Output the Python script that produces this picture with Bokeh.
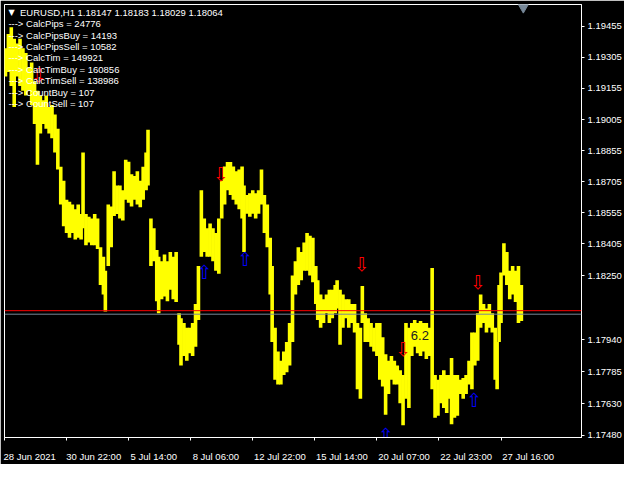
from bokeh.plotting import figure
from bokeh.models import (Range1d, FixedTicker, NumeralTickFormatter, Span, Label, LinearAxis,
                          ColumnDataSource)
from bokeh.core.properties import value
from bokeh.embed import file_html
from bokeh.resources import INLINE

# ---------------- data (EURUSD H1, bar index = hours on chart) ----------------
bars = [1, 4, 7, 10, 13, 16, 19, 22, 25, 28, 31, 34, 37, 40, 43, 46, 49, 52, 55, 58,
        61, 64, 67, 70, 73, 76, 79, 81, 84, 87, 90, 93, 96, 99, 102, 104, 107,
        110, 113, 116, 119, 122, 125, 128, 131, 134, 137, 140, 143, 146, 148, 151, 154,
        157, 159, 162, 165, 168, 171, 174, 177, 180, 182, 185, 188, 191, 194, 197, 200,
        203, 206, 209,
        212, 215, 218, 221, 224, 227, 230, 233, 236, 239, 242, 245, 247, 250, 253, 256,
        259, 262, 265, 268, 271, 274, 276, 279, 282, 285, 288, 291, 294, 297, 300, 303,
        306, 309, 312, 315, 318,
        321, 323, 326, 329, 332, 335, 338, 341, 343, 346, 349, 352, 355, 358, 361, 364,
        367, 369, 372, 375, 378, 381, 384, 387, 390, 393, 396, 399, 402, 405, 408, 411,
        414, 417,
        420, 423, 426, 429, 432, 435, 438, 441, 444, 447, 450, 453, 456, 459, 461, 464,
        467, 470, 473, 476, 479, 482, 485, 488, 491, 494, 497, 500, 503, 506, 508, 510,
        512, 515, 518, 521, 524, 527, 530, 533]

highs = [1.19350, 1.19419, 1.19451, 1.19396, 1.19373, 1.19396, 1.19350, 1.19327, 1.19258, 1.19281,
         1.19190, 1.19144, 1.19121, 1.19098, 1.19121, 1.19066, 1.19075, 1.19029, 1.18961, 1.18777,
         1.18709, 1.18617, 1.18608, 1.18594, 1.18571, 1.18594, 1.18548, 1.18846, 1.18548, 1.18535,
         1.18526, 1.18548, 1.18526, 1.18388, 1.18342, 1.18274, 1.18594,
         1.18585, 1.18755, 1.18686, 1.18686, 1.18663, 1.18810, 1.18801, 1.18741, 1.18732, 1.18755,
         1.18709, 1.18777, 1.18846, 1.18956, 1.18526, 1.18480, 1.18374, 1.18342, 1.18320, 1.18352,
         1.18320, 1.18365, 1.18342, 1.18365, 1.18068, 1.18045, 1.18022, 1.17999, 1.17999, 1.18022,
         1.18113, 1.18297, 1.18663, 1.18526, 1.18480,
         1.18503, 1.18480, 1.18457, 1.18526, 1.18709, 1.18778, 1.18800, 1.18800, 1.18778, 1.18755,
         1.18764, 1.18778, 1.18686, 1.18640, 1.18649, 1.18663, 1.18649, 1.18663, 1.18764, 1.18640,
         1.18594, 1.18434, 1.18297, 1.17999, 1.17884, 1.17839, 1.17884, 1.17930, 1.18022, 1.18251,
         1.18320, 1.18388, 1.18365, 1.18411, 1.18457, 1.18443, 1.18434,
         1.18297, 1.18228, 1.18159, 1.18136, 1.18159, 1.18182, 1.18182, 1.18205, 1.18228, 1.18182,
         1.18159, 1.18136, 1.18136, 1.18113, 1.18113, 1.18022, 1.17999, 1.18200, 1.18068, 1.18045,
         1.18022, 1.17999, 1.18022, 1.18022, 1.17953, 1.17871, 1.17839, 1.17862, 1.17839, 1.17816,
         1.17793, 1.17770, 1.18022, 1.17999,
         1.18022, 1.18036, 1.18022, 1.18031, 1.18022, 1.18022, 1.17999, 1.18287, 1.17770, 1.17747,
         1.17770, 1.17793, 1.17770, 1.17770, 1.17852, 1.17770, 1.17770, 1.17747, 1.17756, 1.17770,
         1.17839, 1.17976, 1.17976, 1.18068, 1.18159, 1.18113, 1.18091, 1.18113, 1.18068, 1.17999,
         1.17930, 1.18205, 1.18265, 1.18407, 1.18365, 1.18274, 1.18297, 1.18274, 1.18297, 1.18205]

lows = [1.19213, 1.19235, 1.19167, 1.19066, 1.19213, 1.19167, 1.19144, 1.19121, 1.19144, 1.19075,
        1.18983, 1.18787, 1.18938, 1.18983, 1.18961, 1.18938, 1.18915, 1.18846, 1.18764, 1.18594,
        1.18489, 1.18457, 1.18434, 1.18457, 1.18425, 1.18434, 1.18425, 1.18480, 1.18397, 1.18411,
        1.18397, 1.18397, 1.18379, 1.18205, 1.18159, 1.18077, 1.18297,
        1.18388, 1.18539, 1.18548, 1.18526, 1.18517, 1.18617, 1.18603, 1.18585, 1.18617, 1.18594,
        1.18581, 1.18617, 1.18663, 1.18686, 1.18297, 1.18320, 1.18127, 1.18068, 1.18136, 1.18150,
        1.18127, 1.18182, 1.18136, 1.18123, 1.17916, 1.17816, 1.17862, 1.17839, 1.17875, 1.17862,
        1.17907, 1.18036, 1.18342, 1.18365, 1.18342,
        1.18342, 1.18320, 1.18274, 1.18260, 1.18526, 1.18594, 1.18663, 1.18640, 1.18617, 1.18594,
        1.18571, 1.18526, 1.18365, 1.18549, 1.18535, 1.18549, 1.18526, 1.18549, 1.18594, 1.18457,
        1.18388, 1.18159, 1.17930, 1.17747, 1.17724, 1.17724, 1.17770, 1.17784, 1.17816, 1.17930,
        1.18159, 1.18205, 1.18228, 1.18274, 1.18274, 1.18251, 1.18219,
        1.18113, 1.18036, 1.17999, 1.18022, 1.18068, 1.18022, 1.18045, 1.18068, 1.18091, 1.17916,
        1.17999, 1.18045, 1.17999, 1.18022, 1.17976, 1.17701, 1.17655, 1.18022, 1.17930, 1.17930,
        1.17907, 1.17884, 1.17862, 1.17747, 1.17715, 1.17578, 1.17678, 1.17747, 1.17724, 1.17724,
        1.17633, 1.17527, 1.17655, 1.17610,
        1.17862, 1.17907, 1.17875, 1.17862, 1.17884, 1.17848, 1.17862, 1.17701, 1.17564, 1.17573,
        1.17633, 1.17610, 1.17587, 1.17655, 1.17532, 1.17564, 1.17573, 1.17678, 1.17655, 1.17678,
        1.17724, 1.17701, 1.17816, 1.17839, 1.17999, 1.18022, 1.17976, 1.17999, 1.17976, 1.17747,
        1.17701, 1.17930, 1.18022, 1.18251, 1.18205, 1.18136, 1.18159, 1.18123, 1.18022, 1.18031]

assert len(bars) == len(highs) == len(lows)

sell_bars = [35, 223, 368, 411, 488]
sell_prices = [1.19222, 1.18741, 1.18306, 1.17898, 1.18219]
buy_bars = [206, 248, 484, 393]
buy_prices = [1.18269, 1.18329, 1.17651, 1.17481]

price_ticks = [1.19455, 1.19305, 1.19155, 1.19005, 1.18855, 1.18705, 1.18555,
               1.18405, 1.18250, 1.17940, 1.17785, 1.17630, 1.17480]
time_ticks = [0, 64, 128, 192, 256, 320, 384, 448, 512]
time_labels = ["28 Jun 2021", "30 Jun 22:00", "5 Jul 14:00", "8 Jul 06:00", "12 Jul 22:00",
               "15 Jul 14:00", "20 Jul 07:00", "22 Jul 23:00", "27 Jul 16:00"]

symbol = "EURUSD,H1"
ohlc = [1.18147, 1.18183, 1.18029, 1.18064]
bid_price = 1.18064
line_price = 1.18081
info_names = ["CalcPips", "CalcPipsBuy", "CalcPipsSell", "CalcTim", "CalcTimBuy",
              "CalcTimSell", "CountBuy", "CountSell"]
info_values = [24776, 14193, 10582, 149921, 160856, 138986, 107, 107]
level_text = "6.2"
shift_bar = 535

# ---------------- layout helpers ----------------
X_END = 595
Y_TOP = 1.19561
Y_BOT = 1.17468
FONT = "Liberation Sans"
FSIZE = "9.5px"


def xd(px):
    return px - 4


def yd(py):
    return Y_TOP - (py - 4) * (Y_TOP - Y_BOT) / 457.0


p = figure(width=624, height=464, x_range=Range1d(0, X_END), y_range=Range1d(Y_BOT, Y_TOP),
           output_backend="svg", toolbar_location=None, y_axis_location="right",
           min_border_left=4, min_border_top=4, min_border_right=40, min_border_bottom=4,
           background_fill_color="black", border_fill_color="black",
           outline_line_color="white", outline_line_width=1)
p.grid.visible = False

# price series
src = ColumnDataSource(dict(bar=bars, hi=highs, lo=lows))
p.segment(x0="bar", y0="lo", x1="bar", y1="hi", source=src, line_color="#FFFF00", line_width=3.6)

# horizontal price lines
p.add_layout(Span(location=line_price, dimension="width", line_color="#FF0000", line_width=1))
p.add_layout(Span(location=bid_price, dimension="width", line_color="#778899", line_width=1))

# price labels on the right scale
p.add_layout(Label(x=X_END + 3, y=line_price, text=f"{line_price:.5f}", text_color="black",
                   text_font=FONT, text_font_size="10px", text_baseline="middle",
                   background_fill_color="#FF0000"))
p.add_layout(Label(x=X_END + 3, y=bid_price, text=f"{bid_price:.5f}", text_color="black",
                   text_font=FONT, text_font_size="10px", text_baseline="middle",
                   background_fill_color="white"))

# arrows
p.text(x=sell_bars, y=sell_prices, text=["\u21e9"] * len(sell_bars), text_color="#FF0000",
       text_align="center", text_baseline="middle", text_font=value("DejaVu Sans"),
       text_font_size=value("19px"))
p.text(x=buy_bars, y=buy_prices, text=["\u21e7"] * len(buy_bars), text_color="#0000FF",
       text_align="center", text_baseline="middle", text_font=value("DejaVu Sans"),
       text_font_size=value("19px"))

# level text
p.text(x=[xd(423)], y=[yd(353)], text=[level_text], text_color="#202020", text_align="left",
       text_baseline="middle", text_font=value(FONT), text_font_size=value("13px"))

# chart shift marker
p.scatter(x=[shift_bar], y=[yd(7)], marker="inverted_triangle", size=10,
          fill_color="#778899", line_color="#778899")

# header and info texts
p.text(x=[xd(8)], y=[yd(12)], text=["\u25bc"], text_color="white", text_align="left",
       text_baseline="middle", text_font=value("DejaVu Sans"), text_font_size=value("8px"))
title = symbol + "  " + " ".join(f"{v:.5f}" for v in ohlc)
p.text(x=[xd(20)], y=[yd(12)], text=[title], text_color="white", text_align="left",
       text_baseline="middle", text_font=value(FONT), text_font_size=value(FSIZE))
info_text = [f"---> {n} = {v}" for n, v in zip(info_names, info_values)]
info_y = [yd(24.3 + 12.05 * k) for k in range(len(info_text))]
p.text(x=[xd(8)] * len(info_text), y=info_y, text=info_text, text_color="white",
       text_align="left", text_baseline="middle", text_font=value(FONT),
       text_font_size=value(FSIZE))

# right price scale
ya = p.yaxis[0]
ya.ticker = FixedTicker(ticks=price_ticks)
ya.formatter = NumeralTickFormatter(format="0.00000")
ya.axis_line_color = "white"
ya.major_tick_line_color = "white"
ya.major_tick_out = 3
ya.major_tick_in = 0
ya.minor_tick_line_color = None
ya.major_label_text_color = "white"
ya.major_label_text_font = FONT
ya.major_label_text_font_size = FSIZE
ya.major_label_standoff = 3

# time scale: tick marks on the first axis ...
xa = p.xaxis[0]
xa.ticker = FixedTicker(ticks=time_ticks)
xa.major_label_overrides = {t: " " for t in time_ticks}
xa.axis_line_color = "white"
xa.major_tick_line_color = "white"
xa.major_tick_out = 3
xa.major_tick_in = 0
xa.minor_tick_line_color = None
xa.major_label_text_color = "black"
xa.major_label_text_font_size = "1px"
xa.major_label_standoff = 0

# ... and labels, left-aligned to the ticks (MT4 style), on a second axis
label_centers = [t + 2 + round(2.2 * len(lab)) for t, lab in zip(time_ticks, time_labels)]
xl = LinearAxis(ticker=FixedTicker(ticks=label_centers),
                major_label_overrides={c: lab for c, lab in zip(label_centers, time_labels)},
                axis_line_color=None, major_tick_line_color=None, minor_tick_line_color=None,
                major_label_text_color="white", major_label_text_font=FONT,
                major_label_text_font_size=FSIZE, major_label_standoff=0)
p.add_layout(xl, "below")

open("out.html", "w").write(file_html(p, INLINE))
